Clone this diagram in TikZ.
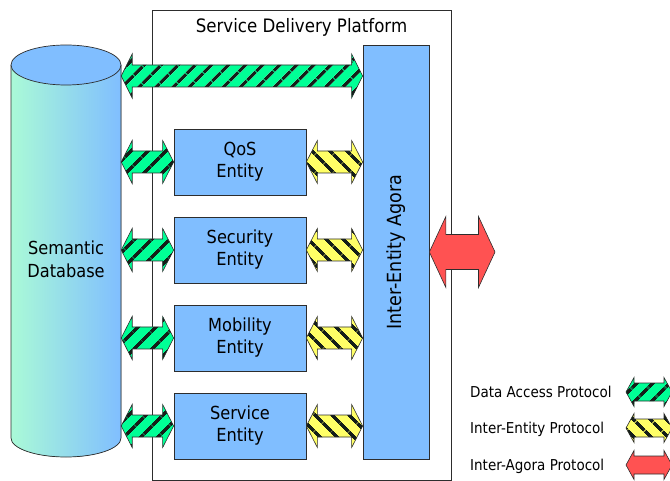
\documentclass[tikz,border=0pt]{standalone}
\usepackage{fontspec}
\setmainfont{DejaVu Sans}[FakeStretch=0.9]
\usetikzlibrary{calc,patterns.meta}

\definecolor{entityblue}{RGB}{128,190,255}
\definecolor{dagreen}{RGB}{0,255,150}
\definecolor{ieyellow}{RGB}{255,255,102}
\definecolor{iared}{RGB}{255,82,82}
\definecolor{dbmint}{RGB}{170,250,215}
\definecolor{edgegray}{RGB}{45,45,45}
\definecolor{stripedark}{RGB}{20,30,25}

\tikzset{
  entity/.style={draw=edgegray, line width=0.7pt, fill=entityblue, minimum width=132pt,
    minimum height=66pt, align=center, inner sep=0pt, font=\fontsize{18}{22}\selectfont},
  agorabox/.style={draw=edgegray, line width=0.7pt, fill=entityblue, minimum width=66pt,
    minimum height=414pt, inner sep=0pt},
  platform/.style={draw=edgegray, line width=0.8pt, minimum width=299pt, minimum height=470pt, inner sep=0pt},
  bigtext/.style={font=\fontsize{18}{23}\selectfont, align=center, inner sep=0pt},
  dastripe/.style={preaction={fill=dagreen}, pattern={Lines[angle=45,distance=13pt,line width=3.6pt]},
    pattern color=stripedark, draw=edgegray, line width=0.6pt},
  iestripe/.style={preaction={fill=ieyellow}, pattern={Lines[angle=-45,distance=13pt,line width=3.6pt]},
    pattern color=stripedark, draw=edgegray, line width=0.6pt},
  iasolid/.style={fill=iared, draw=edgegray, line width=0.6pt},
  legendtext/.style={anchor=base west, inner sep=0pt, font=\fontsize{15}{18}\selectfont},
}

% block double arrow: style, left tip, right tip, head length, shaft half height, head half height
\newcommand\blockarrow[6]{%
  \path[#1] let \p1=(#2), \p2=(#3) in
    (\x1,\y1) -- (\x1+#4pt,\y1+#6pt) -- (\x1+#4pt,\y1+#5pt) -- (\x2-#4pt,\y1+#5pt)
    -- (\x2-#4pt,\y1+#6pt) -- (\x2,\y1) -- (\x2-#4pt,\y1-#6pt) -- (\x2-#4pt,\y1-#5pt)
    -- (\x1+#4pt,\y1-#5pt) -- (\x1+#4pt,\y1-#6pt) -- cycle;}

\begin{document}
\begin{tikzpicture}[x=1pt,y=-1pt]
\useasboundingbox (0,0) rectangle (670,481);
\clip (0,0) rectangle (670,481);

% service delivery platform frame
\node (sdp) [platform] at (301.5,245) {};
\node (title) [anchor=base, inner sep=0pt, font=\fontsize{18.5}{22}\selectfont] at (301.5,33) {Service Delivery Platform};

% semantic database cylinder
\fill[left color=dbmint, right color=entityblue]
  (11,65) -- (11,438) arc[start angle=180, end angle=0, x radius=55, y radius=19] -- (121,65) -- cycle;
\draw[edgegray, line width=0.7pt]
  (11,65) -- (11,438) arc[start angle=180, end angle=0, x radius=55, y radius=19] -- (121,65);
\draw[edgegray, line width=0.7pt, fill=entityblue] (66,65) ellipse[x radius=55, y radius=20];
\node (db) [bigtext, minimum width=110pt, minimum height=390pt] at (66,259) {Semantic\\Database};

% agora and entities
\node (agora) [agorabox, label={[rotate=90, bigtext, font=\fontsize{19.5}{23}\selectfont]center:Inter-Entity Agora}] at (396,252) {};
\node (qos) [entity] at (240,162) {QoS\\Entity};
\node (sec) [entity] at (240,250) {Security\\Entity};
\node (mob) [entity] at (240,338) {Mobility\\Entity};
\node (svc) [entity] at (240,426) {Service\\Entity};

% protocols
\coordinate (darow) at (0,76);
\coordinate (peer) at (495,252);
\blockarrow{dastripe}{db.east |- darow}{agora.west |- darow}{11}{11}{22}
\foreach \e in {qos,sec,mob,svc}{
  \blockarrow{dastripe}{db.east |- \e}{\e.west}{11}{11}{21.5}
  \blockarrow{iestripe}{\e.east}{agora.west |- \e}{11}{11}{21.5}
}
\blockarrow{iasolid}{agora.east}{peer}{16.5}{17.5}{35.5}

% legend
\node (lda) [legendtext] at (470,397) {Data Access Protocol};
\node (lie) [legendtext] at (470,433) {Inter-Entity Protocol};
\node (lia) [legendtext] at (470,470) {Inter-Agora Protocol};
\coordinate (ldaL) at (626,392); \coordinate (ldaR) at (672,392);
\coordinate (lieL) at (626,428); \coordinate (lieR) at (672,428);
\coordinate (liaL) at (626,465); \coordinate (liaR) at (672,465);
\blockarrow{dastripe}{ldaL}{ldaR}{8}{9}{14.5}
\blockarrow{iestripe}{lieL}{lieR}{8}{9}{14.5}
\blockarrow{iasolid}{liaL}{liaR}{8}{9}{14.5}
\end{tikzpicture}
\end{document}
